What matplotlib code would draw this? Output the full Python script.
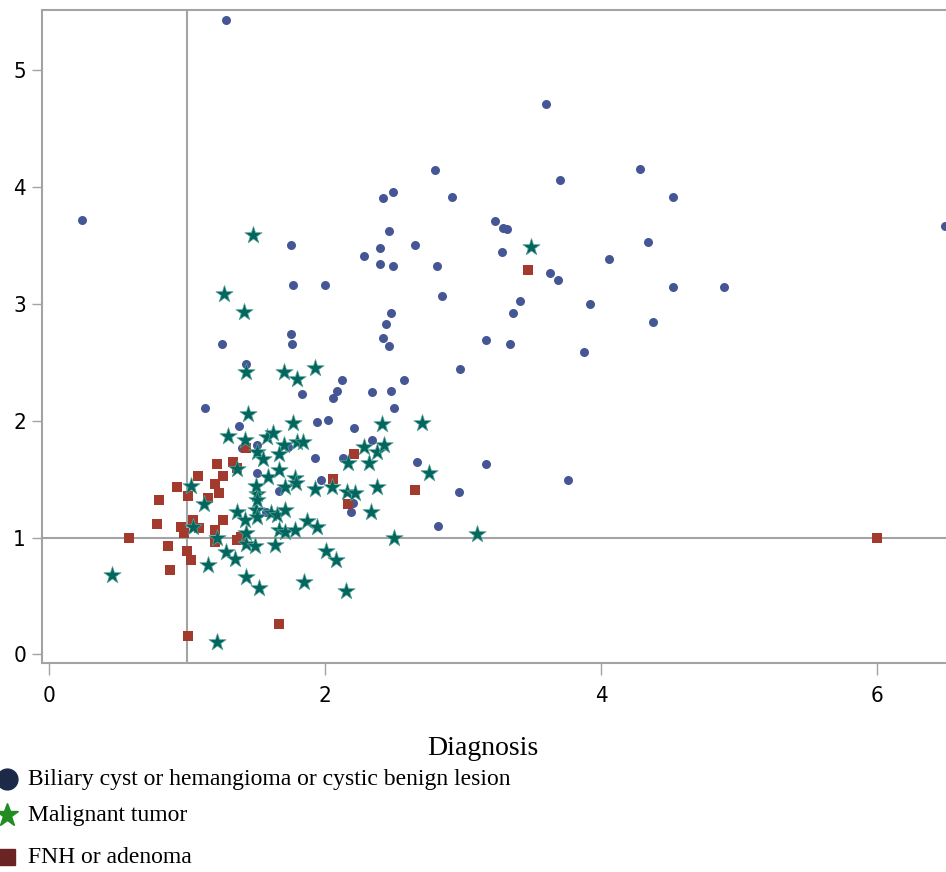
import matplotlib
matplotlib.use("Agg")
import matplotlib.pyplot as plt
from matplotlib.lines import Line2D

# Biliary cyst or hemangioma or cystic benign lesion
benign_x = [0.24, 1.28, 3.60, 2.80, 3.70, 4.28, 2.49, 2.42, 2.92, 4.52, 1.75, 1.77, 2.00,
            2.28, 2.40, 2.46, 2.40, 2.49, 2.65, 2.81, 2.85, 2.98, 2.48, 2.44, 2.42, 2.46,
            1.75, 1.76, 1.25, 1.43, 1.83, 2.12, 2.09, 2.06, 2.34, 2.48, 2.57, 2.50, 3.17,
            3.28, 3.23, 3.29, 3.32, 3.63, 3.69, 3.41, 3.36, 3.34, 4.06, 3.92, 4.34, 4.52,
            4.89, 4.38, 6.49, 3.88, 3.76, 2.67, 3.17, 2.97, 2.82, 1.13, 1.38, 1.94, 2.02,
            2.21, 2.34, 1.40, 1.51, 1.73, 1.93, 2.13, 1.51, 1.97, 1.67, 1.57, 2.19, 2.20]
benign_y = [3.72, 5.43, 4.71, 4.15, 4.06, 4.16, 3.96, 3.91, 3.92, 3.92, 3.51, 3.16, 3.16,
            3.41, 3.48, 3.63, 3.34, 3.33, 3.51, 3.33, 3.07, 2.44, 2.92, 2.83, 2.71, 2.64,
            2.74, 2.66, 2.66, 2.49, 2.23, 2.35, 2.26, 2.20, 2.25, 2.26, 2.35, 2.11, 2.69,
            3.45, 3.71, 3.65, 3.64, 3.27, 3.21, 3.03, 2.92, 2.66, 3.39, 3.00, 3.53, 3.15,
            3.15, 2.85, 3.67, 2.59, 1.49, 1.65, 1.63, 1.39, 1.10, 2.11, 1.96, 1.99, 2.01,
            1.94, 1.84, 1.77, 1.79, 1.78, 1.68, 1.68, 1.55, 1.49, 1.40, 1.22, 1.22, 1.30]

# Malignant tumor
malig_x = [1.48, 1.27, 1.41, 1.43, 1.70, 1.80, 1.93, 3.49, 0.46, 1.03, 1.12, 1.04, 1.22,
           1.15, 1.22, 1.30, 1.42, 1.44, 1.36, 1.36, 1.42, 1.28, 1.35, 1.43, 1.43, 1.52,
           1.49, 1.50, 1.51, 1.50, 1.58, 1.62, 1.70, 1.77, 1.80, 1.84, 1.51, 1.55, 1.59,
           1.67, 1.71, 1.78, 1.79, 1.93, 1.61, 1.65, 1.71, 1.67, 1.71, 1.78, 1.87, 1.94,
           1.64, 1.85, 2.01, 2.08, 2.15, 2.50, 2.28, 2.38, 2.43, 2.32, 2.17, 2.05, 2.16,
           2.22, 2.33, 2.38, 2.41, 2.70, 2.75, 3.10, 1.67, 1.51, 1.51, 1.43]
malig_y = [3.59, 3.09, 2.93, 2.42, 2.42, 2.36, 2.45, 3.49, 0.68, 1.44, 1.29, 1.09, 1.00,
           0.77, 0.11, 1.87, 1.84, 2.06, 1.59, 1.22, 1.15, 0.88, 0.82, 0.95, 0.66, 0.57,
           0.93, 1.24, 1.37, 1.44, 1.86, 1.90, 1.79, 1.98, 1.82, 1.82, 1.73, 1.67, 1.52,
           1.58, 1.43, 1.51, 1.47, 1.42, 1.21, 1.19, 1.24, 1.07, 1.05, 1.07, 1.14, 1.09,
           0.94, 0.62, 0.89, 0.81, 0.54, 1.00, 1.78, 1.73, 1.79, 1.64, 1.64, 1.43, 1.39,
           1.38, 1.22, 1.43, 1.97, 1.98, 1.55, 1.03, 1.72, 1.32, 1.18, 1.04]

# FNH or adenoma
fnh_x = [1.43, 2.21, 2.06, 2.17, 2.65, 1.67, 1.01, 6.00, 3.47, 1.22, 1.33, 1.36, 1.08,
         1.26, 0.93, 1.20, 1.23, 1.01, 1.15, 0.80, 1.26, 1.04, 0.78, 0.96, 1.09, 1.20,
         0.98, 0.58, 1.36, 1.39, 1.20, 0.86, 1.00, 1.03, 0.88]
fnh_y = [1.77, 1.72, 1.50, 1.29, 1.41, 0.26, 0.16, 1.00, 3.29, 1.63, 1.65, 1.60, 1.53,
         1.53, 1.43, 1.46, 1.38, 1.36, 1.34, 1.32, 1.15, 1.15, 1.12, 1.09, 1.08, 1.07,
         1.04, 1.00, 0.98, 1.01, 0.96, 0.93, 0.89, 0.81, 0.72]

labels = ["Biliary cyst or hemangioma or cystic benign lesion", "Malignant tumor", "FNH or adenoma"]
yticks = [0, 1, 2, 3, 4, 5]
xticks = [0, 2, 4, 6]

W, H = 946, 872
fig = plt.figure(figsize=(W / 100, H / 100), dpi=100)
ax = fig.add_axes([42 / W, (H - 663) / H, (948 - 42) / W, (663 - 10) / H])

grey = "#a3a3a3"
ax.axvline(1, color=grey, lw=1.5, zorder=1)
ax.axhline(1, color=grey, lw=1.5, zorder=1)

ax.scatter(benign_x, benign_y, marker="o", s=42, color="#445694", lw=0, zorder=3)
ax.scatter(fnh_x, fnh_y, marker="s", s=48, color="#A23A2E", lw=0, zorder=3)
ax.scatter(malig_x, malig_y, marker="*", s=170, color="#01665E",
           edgecolors="#5aa39a", lw=0.5, zorder=4)

ax.set_xlim(-0.0507, 6.514)
ax.set_ylim(-0.073, 5.518)
ax.set_xticks(xticks)
ax.set_yticks(yticks)

tick_font = dict(family="DejaVu Sans", stretch="condensed", size=16)
ax.set_xticklabels([str(t) for t in xticks], **tick_font)
ax.set_yticklabels([str(t) for t in yticks], **tick_font)
ax.tick_params(axis="x", length=8.5, width=1, color=grey, pad=8)
ax.tick_params(axis="y", length=7.5, width=1, color=grey, pad=4)

for side in ["left", "bottom", "top"]:
    ax.spines[side].set_color(grey)
    ax.spines[side].set_linewidth(1.5)
ax.spines["right"].set_visible(False)

serif = ["Liberation Serif", "DejaVu Serif"]
fig.text(483 / W, 1 - 748 / H, "Diagnosis", family=serif, size=20,
         ha="center", va="center")

# legend drawn by hand below the plot
leg_rows = [779, 815, 857]
leg_marks = [("o", "#1c2a48", 15), ("*", "#228b22", 17), ("s", "#6b2424", 12)]
for (m, c, ms), yy, lab in zip(leg_marks, leg_rows, labels):
    fig.add_artist(Line2D([7 / W], [1 - yy / H], transform=fig.transFigure,
                          marker=m, color=c, markersize=ms, lw=0))
    fig.text(28 / W, 1 - yy / H, lab, family=serif, size=17, ha="left", va="center")

fig.savefig("out.png", dpi=100)
